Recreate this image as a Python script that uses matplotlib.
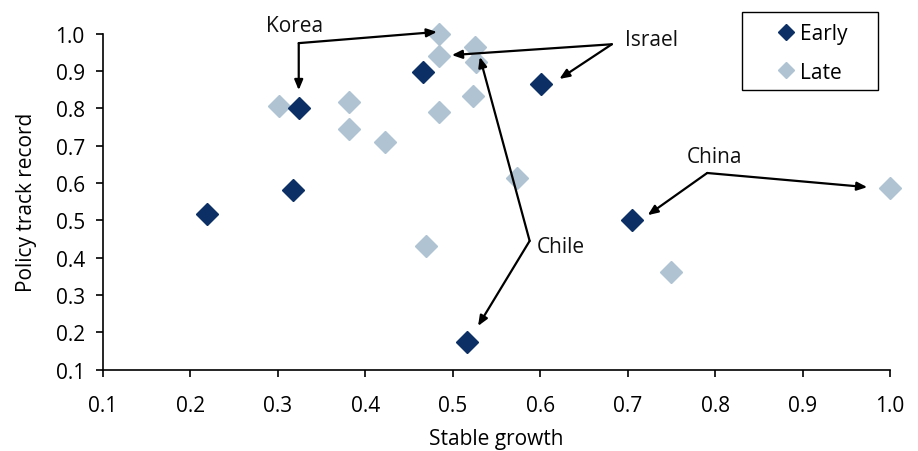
import matplotlib
matplotlib.use("Agg")
import matplotlib.pyplot as plt
from matplotlib.patches import Rectangle

plt.rcParams['font.family'] = ['Open Sans', 'DejaVu Sans']

early_x = [0.219, 0.324, 0.318, 0.466, 0.601, 0.516, 0.705]
early_y = [0.517, 0.800, 0.581, 0.897, 0.865, 0.174, 0.501]
late_x = [0.302, 0.484, 0.484, 0.526, 0.527, 0.381, 0.381, 0.423, 0.484, 0.523, 0.574, 0.470, 0.750, 1.000]
late_y = [0.806, 1.000, 0.940, 0.964, 0.924, 0.817, 0.745, 0.710, 0.790, 0.833, 0.613, 0.431, 0.362, 0.587]

x_ticks = [0.1, 0.2, 0.3, 0.4, 0.5, 0.6, 0.7, 0.8, 0.9, 1.0]
y_ticks = [0.1, 0.2, 0.3, 0.4, 0.5, 0.6, 0.7, 0.8, 0.9, 1.0]

# annotations: label, text pos, vertex, arrow ends
annotations = [
    ("Korea", (0.319, 1.021), (0.324, 0.975), [(0.482, 1.005), (0.324, 0.849)], 'center'),
    ("Israel", (0.697, 0.986), (0.682, 0.972), [(0.499, 0.943), (0.622, 0.879)], 'left'),
    ("Chile", (0.596, 0.429), (0.588, 0.445), [(0.531, 0.938), (0.529, 0.217)], 'left'),
    ("China", (0.799, 0.670), (0.791, 0.627), [(0.723, 0.514), (0.974, 0.589)], 'center'),
]

dark = '#0C2F66'
light = '#AFC3D3'
FS = 15

fig = plt.figure(figsize=(9.18, 4.52), dpi=100)
ax = fig.add_axes([0.112, 0.180, 0.8575, 0.743])

ax.plot(early_x, early_y, 'D', color=dark, markersize=11, linestyle='none',
        label='Early', clip_on=False, zorder=3)
ax.plot(late_x, late_y, 'D', color=light, markersize=11, linestyle='none',
        label='Late', clip_on=False, zorder=2)

for label, tpos, vtx, ends, ha in annotations:
    ax.text(tpos[0], tpos[1], label, fontsize=FS, ha=ha, va='center', color='#111111')
    for end in ends:
        ax.annotate('', xy=end, xytext=vtx, annotation_clip=False,
                    arrowprops=dict(arrowstyle='-|>,head_length=0.6,head_width=0.25',
                                    color='black', lw=1.6, shrinkA=0, shrinkB=0))

ax.set_xlim(0.1, 1.0)
ax.set_ylim(0.1, 1.0)
ax.set_xticks(x_ticks)
ax.set_yticks(y_ticks)
ax.set_xticklabels([f"{v:.1f}" for v in x_ticks])
ax.set_yticklabels([f"{v:.1f}" for v in y_ticks])
ax.tick_params(axis='both', labelsize=FS, direction='out', length=5, width=1.2,
               colors='black')
ax.tick_params(axis='x', pad=13)
ax.tick_params(axis='y', pad=8)
for s in ['top', 'right']:
    ax.spines[s].set_visible(False)
for s in ['left', 'bottom']:
    ax.spines[s].set_linewidth(1.2)

ax.set_xlabel('Stable growth', fontsize=FS, labelpad=9)
ax.set_ylabel('Policy track record', fontsize=FS, labelpad=13)

# legend box
fig.patches.append(Rectangle((742 / 918, 1 - 91 / 452), 136 / 918, 78 / 452,
                             transform=fig.transFigure, fill=False,
                             edgecolor='black', linewidth=1.0, zorder=5))
leg = ax.legend(loc='upper left', bbox_to_anchor=(775.6 / 918, 1 - 24 / 452),
                bbox_transform=fig.transFigure, fontsize=FS,
                frameon=False, handletextpad=0.17,
                handlelength=1.0, borderpad=0.0, borderaxespad=0.0,
                labelspacing=0.85, markerscale=0.75)

fig.savefig('out.png', dpi=100)
